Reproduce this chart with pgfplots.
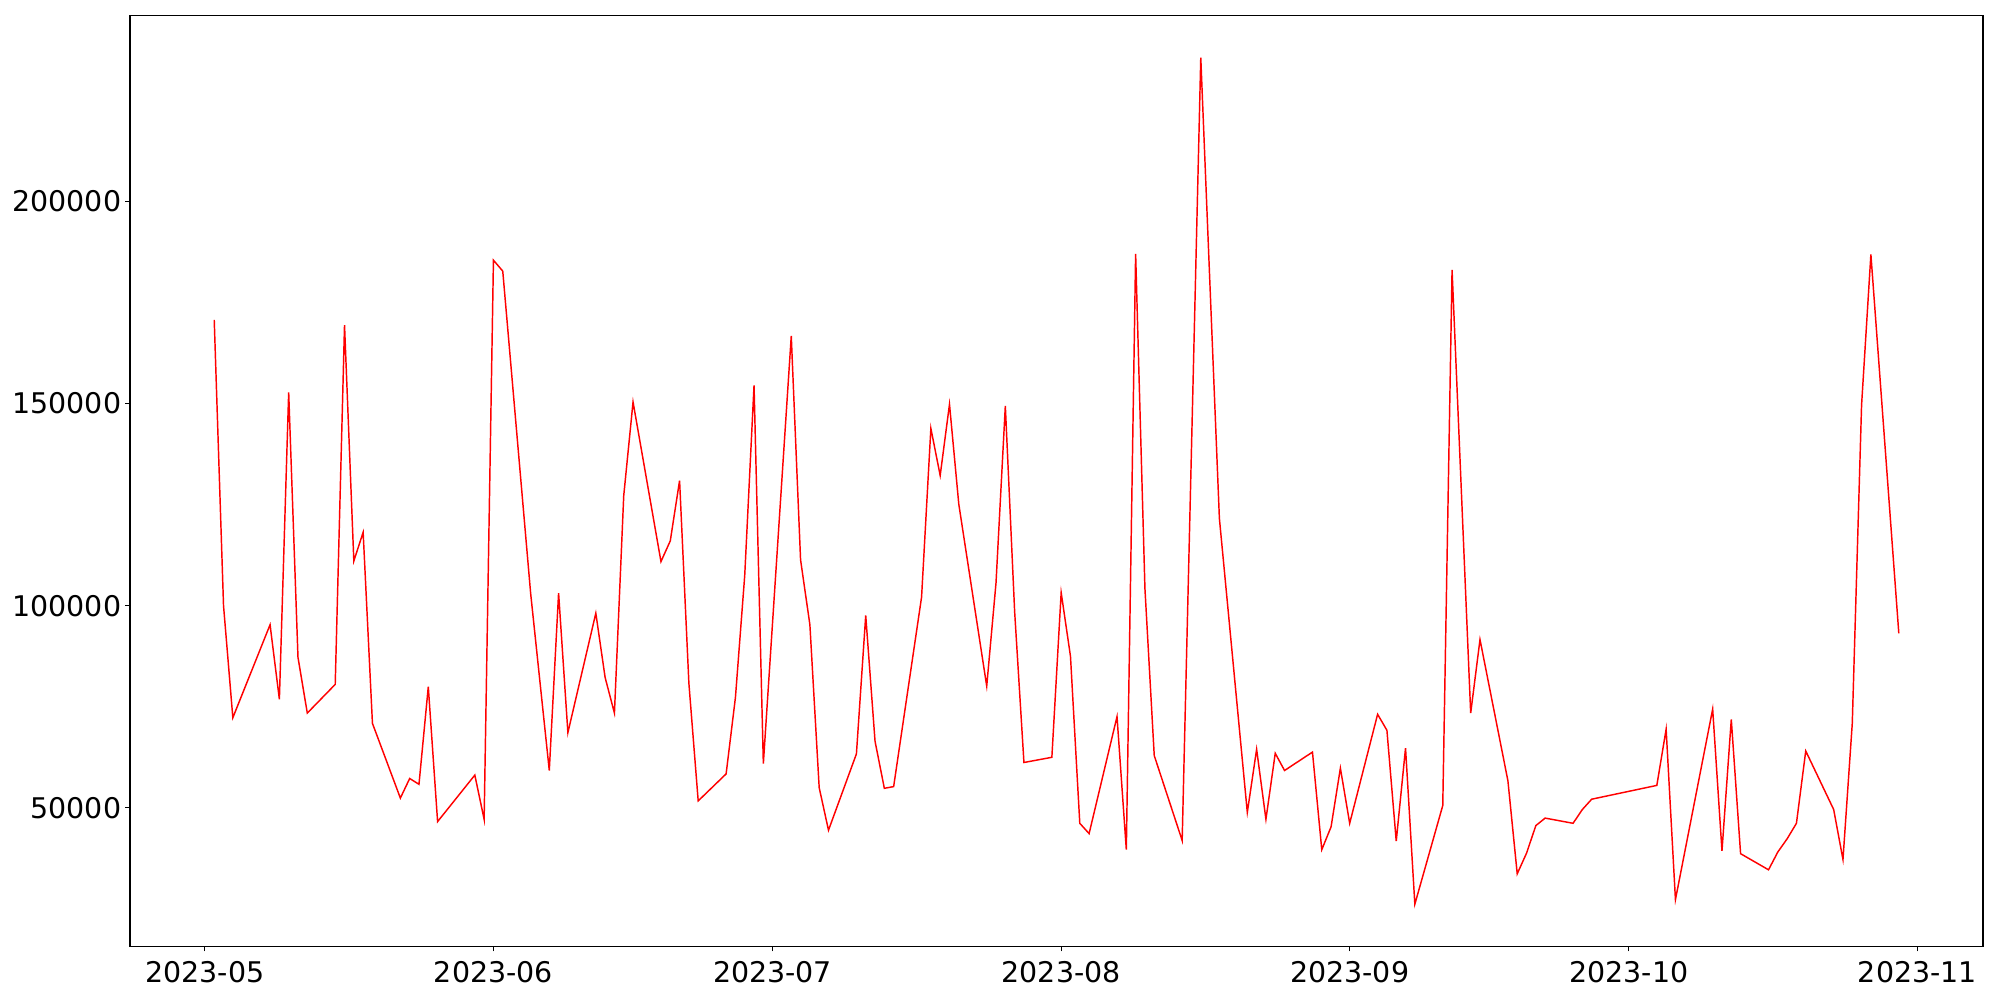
\documentclass[border=0pt]{standalone}
\usepackage{fontspec}
\setmainfont{DejaVu Sans}
\usepackage{pgfplots}
\pgfplotsset{compat=1.18}
\begin{document}
\fontsize{20}{24}\selectfont
\begin{tikzpicture}
\path[use as bounding box] (0,0) rectangle (1440pt,720pt);
\begin{axis}[
  at={(93.6pt,38.5pt)}, anchor=south west,
  scale only axis, width=1334.2pt, height=670.5pt,
  xmin=-8.05, xmax=191.05, ymin=15720, ymax=246000,
  xtick={0,31,61,92,123,153,184},
  xticklabels={2023-05,2023-06,2023-07,2023-08,2023-09,2023-10,2023-11},
  ytick={50000,100000,150000,200000},
  yticklabels={50000,100000,150000,200000},
  scaled y ticks=false,
  tick align=outside, tick pos=left,
  major tick length=3.5pt,
  every tick/.style={black, line width=0.8pt},
  axis line style={line width=0.8pt},
  tick label style={font=\fontsize{20.5}{24}\selectfont},
  xticklabel style={yshift=0pt},
  yticklabel style={xshift=4pt},
]
\addplot[red, line width=1.05pt, mark=none] table {
1 170673
2 99975
3 72305
7 95302
8 76855
9 152770
10 87215
11 73442
14 80539
15 169387
16 111054
17 118150
18 70896
21 52423
22 57270
23 55836
24 79970
25 46612
29 58111
30 47181
31 185435
32 182740
35 103000
37 59248
38 103116
39 68620
42 98145
43 82245
44 73442
45 127226
46 150371
49 110905
50 116024
51 130935
52 80811
53 51731
56 58407
57 77275
58 107493
59 154476
60 60955
63 166691
64 111325
65 95302
66 54995
67 44486
70 63353
71 97577
72 66494
73 54847
74 55267
77 102102
78 143843
79 132196
80 149802
81 125099
84 80119
85 105663
86 149382
87 98566
88 61227
91 62512
92 103239
93 87488
94 46192
95 43645
98 72577
99 39664
100 186993
101 104229
102 62933
105 41939
107 235534
109 121563
112 48887
113 64491
114 47181
115 63501
116 59248
119 63798
120 39664
121 45326
122 59817
123 46192
126 73145
127 69189
128 41790
129 64787
130 26187
133 50593
134 183012
136 73442
137 91617
140 56701
141 33704
142 38798
143 45623
144 47478
147 46192
148 49604
149 52151
156 55564
157 69461
158 27324
162 74431
163 39367
164 71884
165 38675
168 34693
169 39095
170 42359
171 46192
172 64070
175 49604
176 37240
177 70896
178 149654
179 186845
182 93175
};
\end{axis}
\end{tikzpicture}
\end{document}
